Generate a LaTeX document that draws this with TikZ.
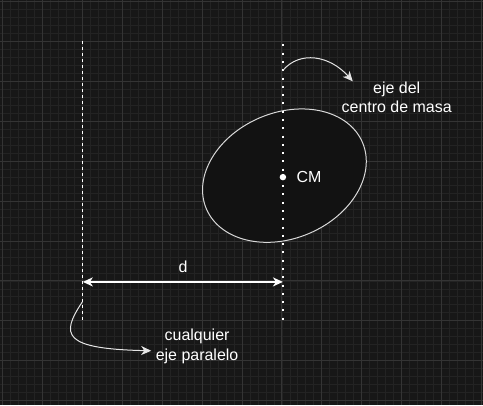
\documentclass[tikz,border=0pt]{standalone}
\usepackage{fontspec}
\setmainfont{Liberation Sans}
\usetikzlibrary{shapes.geometric}
\usetikzlibrary{positioning}
\usetikzlibrary{arrows.meta}
\definecolor{bgcol}{RGB}{23,23,23}
\definecolor{gridmin}{RGB}{35,35,35}
\definecolor{gridmaj}{RGB}{52,52,52}
\definecolor{bodyfill}{RGB}{18,18,18}
\tikzset{
    gridminor/.style = {draw=gridmin,line width=0.8pt},
    gridmajor/.style = {draw=gridmaj,line width=1pt},
    axisany/.style = {draw=white,line width=1pt,dash pattern=on 3pt off 3pt}, % any axis
    axiscm/.style = {draw=white,line width=2pt,dash pattern=on 2pt off 6.3pt}, % cm axis
    body/.style = {ellipse, draw=white!85!black, line width=1pt, fill=bodyfill, inner sep=0pt, minimum width=170pt, minimum height=126pt, rotate=23},
    dotnode/.style = {circle, fill=white, inner sep=0pt, minimum size=6.5pt},
    txt/.style = {text=white, inner sep=0pt, align=center, font=\fontsize{16}{20}\selectfont},
    edgedim/.style = {{Stealth[length=10pt,width=9pt,inset=3pt]}-{Stealth[length=10pt,width=9pt,inset=3pt]},line width=2pt,white},
    edgecurve/.style = {-{Stealth[length=10pt,width=9pt,inset=3pt]},line width=1pt,white!90!black},
}
\begin{document}
\begin{tikzpicture}[x=1pt,y=-1pt]
%
\fill[bgcol] (0,0) rectangle (483,405);
\foreach \x in {2,10,...,482} \draw[gridminor] (\x,0) -- (\x,405);
\foreach \y in {1,9,...,401} \draw[gridminor] (0,\y) -- (483,\y);
\foreach \x in {2,42,...,482} \draw[gridmajor] (\x,0) -- (\x,405);
\foreach \y in {1,41,...,401} \draw[gridmajor] (0,\y) -- (483,\y);
\useasboundingbox (0,0) rectangle (483,405);
%
\node[body] at (284.5,175.5) (body) {};
%
\coordinate (anyTop) at (82,41);
\coordinate (anyBot) at (82,322);
\coordinate (cmTop) at (283,44);
\coordinate (cmBot) at (283,322);
\draw[axisany] (anyTop) -- (anyBot);
\draw[axiscm] (cmTop) -- (cmBot);
%
\node[dotnode] at (283,177) (cm) {};
\node[txt,right=10pt of cm] (cmlabel) {CM};
%
\coordinate (dA) at (82.5,282);
\coordinate (dB) at (283,282);
\draw[edgedim] (dA) -- (dB);
\node[txt] at (183,267) (dlabel) {d};
%
\node[txt] at (397,97) (cmaxis) {eje del\\centro de masa};
\node[txt] at (197,347) (anyaxis) {cualquier\\eje paralelo};
%
\coordinate (cmStart) at (283,70);
\coordinate (cmEnd) at (353,81);
\draw[edgecurve] (cmStart) .. controls (300,50) and (330,55) .. (cmEnd);
\coordinate (anyStart) at (82,302);
\coordinate (anyEnd) at (151,351);
\draw[edgecurve] (anyStart) .. controls (60,335) and (62,349) .. (anyEnd);

\end{tikzpicture}
\end{document}
